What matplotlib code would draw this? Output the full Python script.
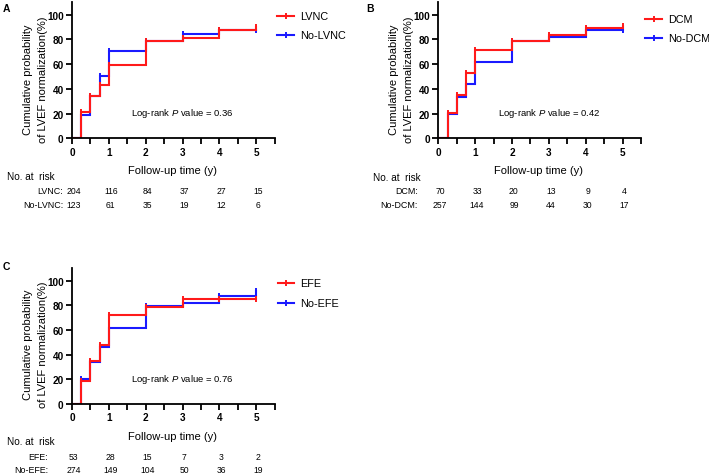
import matplotlib
matplotlib.use('Agg')
import matplotlib.pyplot as plt
import matplotlib.transforms as mtransforms
from matplotlib.lines import Line2D
from matplotlib.ticker import MultipleLocator

plt.rcParams['font.family'] = ['Liberation Sans', 'DejaVu Sans']
plt.rcParams['mathtext.fontset'] = 'custom'
plt.rcParams['mathtext.it'] = 'Liberation Sans:italic'
plt.rcParams['mathtext.rm'] = 'Liberation Sans'

W, H = 709, 477

# ---------------- data ----------------
times = [0, 0.25, 0.5, 0.75, 1, 2, 3, 4, 5]
risk_times = [0, 1, 2, 3, 4, 5]

lvnc = [0, 21, 34, 43, 59, 78.5, 81, 87.5, 90]
no_lvnc = [0, 19, 34, 50, 71, 79, 84, 88, 88]
lvnc_risk = [204, 116, 84, 37, 27, 15]
no_lvnc_risk = [123, 61, 35, 19, 12, 6]

dcm = [0, 20.5, 35, 53, 71.5, 79, 83.5, 89, 90.5]
no_dcm = [0, 20, 33.5, 44, 62, 78.5, 82, 87.5, 87.5]
dcm_risk = [70, 33, 20, 13, 9, 4]
no_dcm_risk = [257, 144, 99, 44, 30, 17]

efe = [0, 19, 35, 48, 72, 79, 85.5, 85.5, 85.5]
no_efe = [0, 20.5, 34, 46, 62, 79.5, 82, 88, 92]
efe_risk = [53, 28, 15, 7, 3, 2]
no_efe_risk = [274, 149, 104, 50, 36, 19]

p_values = ['0.36', '0.42', '0.76']
panel_letters = ['A', 'B', 'C']

RED = '#ff1a1a'
BLUE = '#1a1aff'

fig = plt.figure(figsize=(W / 100, H / 100), dpi=100)


def fx(x):
    return x / W


def fy(y):
    return 1 - y / H


def draw_panel(rect, letter, letter_xy, names, curves, risks, pval,
               leg, table):
    left, top, right, bottom = rect
    ax = fig.add_axes([fx(left), fy(bottom), (right - left) / W, (bottom - top) / H])
    # blue first, red on top
    ax.step(times, curves[1], where='post', color=BLUE, lw=1.5, solid_joinstyle='miter')
    ax.plot(times[1:], curves[1][1:], ls='none', marker='|', ms=4.5, mew=1.4, color=BLUE)
    ax.step(times, curves[0], where='post', color=RED, lw=1.5, solid_joinstyle='miter')
    ax.plot(times[1:], curves[0][1:], ls='none', marker='|', ms=4.5, mew=1.4, color=RED)

    ax.set_xlim(0, 5.5)
    ax.set_ylim(0, 110)
    ax.xaxis.set_major_locator(MultipleLocator(1))
    ax.xaxis.set_minor_locator(MultipleLocator(0.5))
    ax.set_xticks([0, 1, 2, 3, 4, 5])
    ax.set_yticks([0, 20, 40, 60, 80, 100])
    for s in ['top', 'right']:
        ax.spines[s].set_visible(False)
    for s in ['left', 'bottom']:
        ax.spines[s].set_linewidth(1.3)
    ax.tick_params(axis='both', which='major', direction='out', length=4,
                   width=1.3, labelsize=7.2, pad=2)
    ax.tick_params(axis='x', which='minor', direction='out', length=4, width=1.3)
    for lab in ax.get_xticklabels() + ax.get_yticklabels():
        lab.set_fontweight('bold')

    ax.text(3.0, 20.5, 'Log-rank $\\it{P}$ value = ' + pval, ha='center', va='center',
            fontsize=6.8)

    # y label (two lines)
    cy = (top + bottom) / 2 + 8
    fig.text(fx(left - 44), fy(cy), 'Cumulative probability', rotation=90,
             ha='center', va='center', fontsize=8)
    fig.text(fx(left - 29), fy(cy), 'of LVEF normalization(%)', rotation=90,
             ha='center', va='center', fontsize=8)
    # x label
    fig.text(fx((left + right) / 2 - 1), fy(bottom + 32), 'Follow-up time (y)',
             ha='center', va='center', fontsize=8)

    # panel letter
    fig.text(fx(letter_xy[0]), fy(letter_xy[1]), letter, ha='left', va='center',
             fontsize=7.5, fontweight='bold')

    # legend
    hx0, hx1, tx, ly = leg
    for col, name, yy in zip([RED, BLUE], names, ly):
        fig.add_artist(Line2D([fx(hx0), fx(hx1)], [fy(yy), fy(yy)], color=col, lw=1.5,
                              transform=fig.transFigure))
        fig.add_artist(Line2D([fx((hx0 + hx1) / 2)], [fy(yy)], color=col, ls='none',
                              marker='|', ms=4.5, mew=1.4, transform=fig.transFigure))
        fig.text(fx(tx), fy(yy), name, ha='left', va='center', fontsize=7.8)

    # risk table
    hdr_x, hdr_y, lab_rx, row_ys = table
    fig.text(fx(hdr_x), fy(hdr_y), 'No. at  risk', ha='left', va='center', fontsize=7.2)
    trans = mtransforms.blended_transform_factory(ax.transData, fig.transFigure)
    for name, vals, yy in zip(names, risks, row_ys):
        fig.text(fx(lab_rx), fy(yy), name + ':', ha='right', va='center', fontsize=6.4)
        for t, v in zip(risk_times, vals):
            ax.text(t + 0.05, fy(yy), str(v), transform=trans, ha='center', va='center',
                    fontsize=6.2, clip_on=False)
    return ax


draw_panel((72, 3.3, 274.8, 139.3), panel_letters[0], (3, 8.5),
           ['LVNC', 'No-LVNC'], [lvnc, no_lvnc], [lvnc_risk, no_lvnc_risk], p_values[0],
           (277, 294, 300, [17, 36]), (7, 177, 63, [192, 205]))

draw_panel((438.3, 3.3, 641.1, 139.3), panel_letters[1], (366, 8.5),
           ['DCM', 'No-DCM'], [dcm, no_dcm], [dcm_risk, no_dcm_risk], p_values[1],
           (645, 662, 668, [20, 39]), (373, 178, 418, [192, 205]))

draw_panel((72, 269.4, 274.8, 405), panel_letters[2], (3, 267),
           ['EFE', 'No-EFE'], [efe, no_efe], [efe_risk, no_efe_risk], p_values[2],
           (278, 294, 300, [284, 304]), (7, 442, 48, [458, 471]))

fig.savefig('out.png', dpi=100)
